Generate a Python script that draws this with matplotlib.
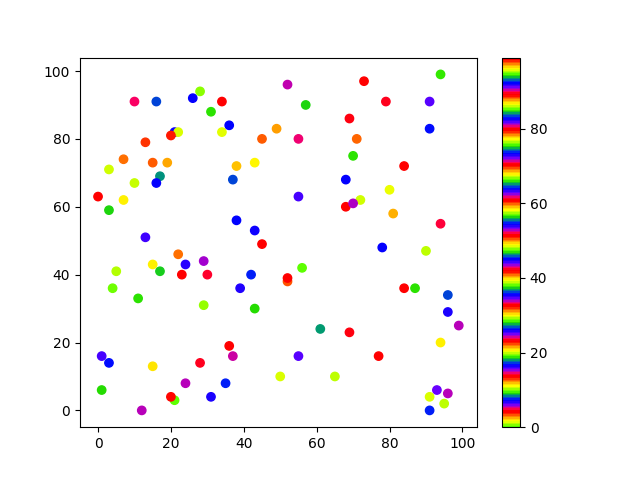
import matplotlib
matplotlib.use("Agg")
import matplotlib.pyplot as plt

x = [10, 16, 26, 28, 34, 31, 21, 22, 20, 13,
     34, 7, 15, 19, 3, 17, 10, 16, 52, 57,
     36, 49, 45, 55, 38, 43, 37, 68, 94, 73,
     79, 91, 69, 91, 71, 70, 84, 0, 7, 3,
     13, 22, 29, 15, 24, 5, 17, 23, 30, 4,
     11, 29, 55, 68, 72, 38, 43, 45, 56, 42,
     52, 52, 39, 80, 70, 81, 94, 78, 90, 84,
     87, 96, 1, 3, 15, 28, 24, 1, 21, 20,
     31, 12, 43, 61, 36, 37, 55, 50, 65, 35,
     96, 99, 69, 94, 77, 93, 96, 91, 95, 91]

y = [91, 91, 92, 94, 91, 88, 82, 82, 81, 79,
     82, 74, 73, 73, 71, 69, 67, 67, 96, 90,
     84, 83, 80, 80, 72, 73, 68, 68, 99, 97,
     91, 91, 86, 83, 80, 75, 72, 63, 62, 59,
     51, 46, 44, 43, 43, 41, 41, 40, 40, 36,
     33, 31, 63, 60, 62, 56, 53, 49, 42, 40,
     38, 39, 36, 65, 61, 58, 55, 48, 47, 36,
     36, 34, 16, 14, 13, 14, 8, 6, 3, 4,
     4, 0, 30, 24, 19, 16, 16, 10, 10, 8,
     29, 25, 23, 20, 16, 6, 5, 4, 2, 0]

colors = [89.9, 83.4, 73.4, 66.6, 51.6, 46.9, 35.5, 29.4, 22.6, 12.8,
          95.7, 88.1, 78.6, 68.7, 57.8, 46.3, 38.8, 26.1, 14.8, 9.0,
          92.4, 87.4, 78.6, 61.5, 59.0, 49.0, 36.1, 26.1, 18.9, 4.6,
          89.5, 81.9, 70.6, 64.0, 59.7, 46.9, 32.7, 23.2, 20.6, 9.0,
          91.3, 88.1, 71.6, 68.0, 54.0, 48.3, 37.4, 32.1, 14.1, 9.7,
          94.3, 85.5, 72.4, 61.1, 57.8, 45.0, 35.5, 23.2, 19.2, 7.7,
          97.6, 89.0, 72.9, 67.3, 52.7, 49.5, 33.1, 26.1, 19.9, 4.3,
          94.3, 83.4, 72.4, 64.0, 58.5, 42.2, 33.7, 27.9, 19.2, 13.2,
          91.9, 81.1, 75.3, 65.3, 51.6, 43.2, 34.5, 29.4, 19.9, 7.7,
          91.9, 81.1, 70.6, 68.0, 51.6, 44.0, 33.7, 29.4, 19.9, 7.7]

fig = plt.figure(figsize=(6.4, 4.8), dpi=100)
ax = fig.add_subplot(111)
sc = ax.scatter(x, y, c=colors, cmap="prism_r", vmin=0, vmax=99)
fig.colorbar(sc, ax=ax)
fig.savefig("out.png", dpi=100)
